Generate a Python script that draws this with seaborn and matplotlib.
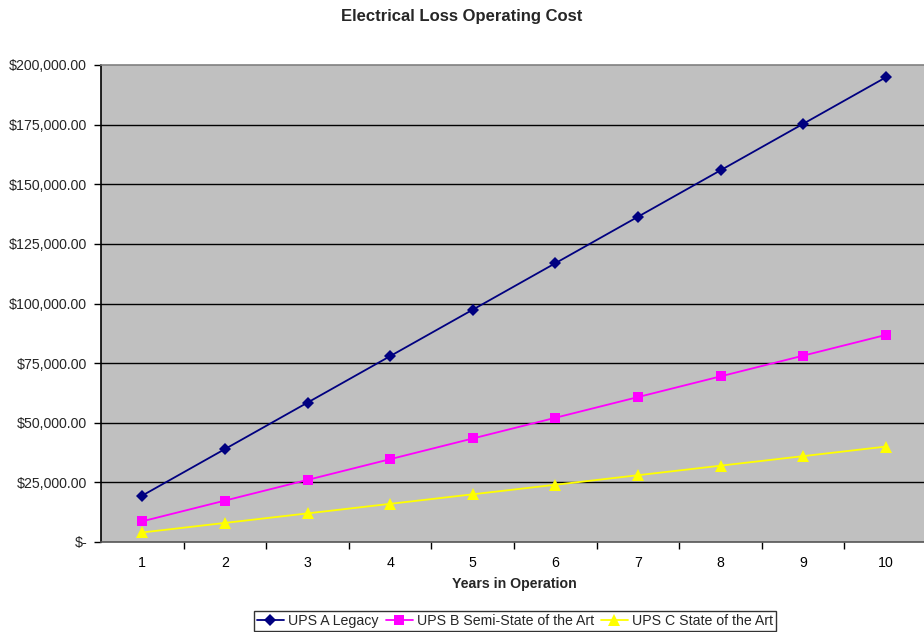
import matplotlib
matplotlib.use("Agg")
import matplotlib.pyplot as plt
from matplotlib.ticker import FuncFormatter, FixedLocator
import seaborn as sns
import pandas as pd

years = [1, 2, 3, 4, 5, 6, 7, 8, 9, 10]
ups_a_legacy = [19480, 38960, 58440, 77920, 97400, 116880, 136360, 155840, 175320, 194800]
ups_b_semi = [8680, 17360, 26040, 34720, 43400, 52080, 60760, 69440, 78120, 86800]
ups_c_state = [4000, 8000, 12000, 16000, 20000, 24000, 28000, 32000, 36000, 40000]
series_names = ["UPS A Legacy", "UPS B Semi-State of the Art", "UPS C State of the Art"]
y_ticks = [0, 25000, 50000, 75000, 100000, 125000, 150000, 175000, 200000]

df = pd.concat([
    pd.DataFrame({"year": years, "cost": vals, "series": name})
    for name, vals in zip(series_names, [ups_a_legacy, ups_b_semi, ups_c_state])
])

sns.set_theme(style="white")
plt.rcParams["font.family"] = ["Liberation Sans", "DejaVu Sans"]

fig = plt.figure(figsize=(9.24, 6.32), dpi=100)
ax = fig.add_axes([101 / 924, (632 - 542) / 632, (927 - 101) / 924, (542 - 65) / 632])
ax.set_facecolor("#C0C0C0")

palette = ["#000080", "#FF00FF", "#FFFF00"]
markers = ["D", "s", "^"]
sizes = [6.3, 7.5, 8]

sns.lineplot(data=df, x="year", y="cost", hue="series", style="series",
             palette=palette, markers=markers, dashes=False, linewidth=1.3,
             markeredgewidth=0, ax=ax, legend=False)
for line, ms in zip(ax.get_lines(), sizes):
    line.set_markersize(ms)

ax.set_xlim(0.5, 10.5)
ax.set_ylim(0, 200000)

ax.yaxis.set_major_locator(FixedLocator(y_ticks))
ax.yaxis.set_major_formatter(FuncFormatter(lambda v, p: "$-" if v == 0 else f"${v:,.2f}"))
for t in y_ticks[1:-1]:
    ax.axhline(t, color="black", linewidth=1.0, zorder=1)

ax.xaxis.set_major_locator(FixedLocator(years))
ax.xaxis.set_minor_locator(FixedLocator([y + 0.5 for y in years[:-1]]))
ax.tick_params(axis="x", which="major", length=0, pad=10, labelsize=10.2, colors="black")
ax.tick_params(axis="x", which="minor", length=5, width=1, direction="out", color="black", bottom=True)
ax.tick_params(axis="y", which="major", length=5, width=1, direction="out", color="black",
               left=True, pad=5, labelsize=10.2)

for side in ["left", "bottom", "top", "right"]:
    ax.spines[side].set_visible(True)
ax.spines["left"].set_color("black")
ax.spines["left"].set_linewidth(1.2)
ax.spines["bottom"].set_color("#555555")
ax.spines["bottom"].set_linewidth(1.2)
ax.spines["top"].set_color("#808080")
ax.spines["top"].set_linewidth(1.2)
ax.spines["right"].set_visible(False)

ax.set_xlabel("Years in Operation", fontsize=10.2, fontweight="bold", labelpad=5)
ax.set_ylabel("")
fig.text(0.5, 1 - 16 / 632, "Electrical Loss Operating Cost", ha="center", va="center",
         fontsize=12, fontweight="bold")

handles = [plt.Line2D([], [], color=c, marker=m, markersize=s, markeredgewidth=0, linewidth=1.3)
           for c, m, s in zip(palette, markers, sizes)]
leg = fig.legend(handles, series_names, loc="center", bbox_to_anchor=(515 / 924, 1 - 621 / 632),
                 ncol=3, frameon=True, fancybox=False, fontsize=10.2, handlelength=1.9,
                 handletextpad=0.3, columnspacing=0.5, borderpad=0.2, borderaxespad=0)
leg.get_frame().set_edgecolor("black")
leg.get_frame().set_linewidth(1.0)

fig.savefig("out.png", dpi=100)
